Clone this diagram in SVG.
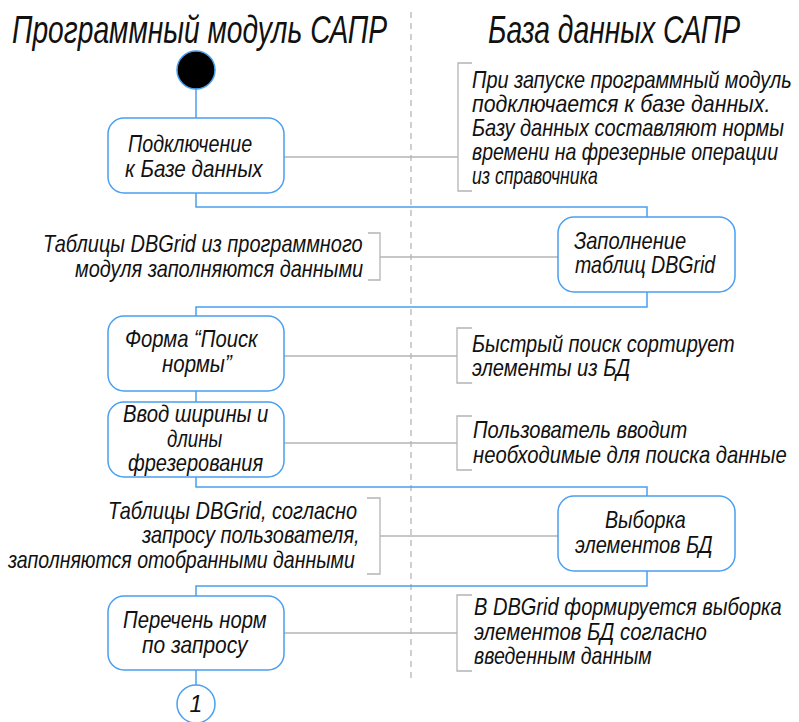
<svg xmlns="http://www.w3.org/2000/svg" width="799" height="722" viewBox="0 0 799 722">
<style>
text{font-family:"Liberation Sans","DejaVu Sans",sans-serif;font-style:italic;fill:#111;}
.t{font-size:23px;}
.h{font-size:38px;}
.node{fill:#fff;stroke:#4a9ff0;stroke-width:1.5;}
.flow{fill:none;stroke:#4a9ff0;stroke-width:1.5;}
.note{fill:none;stroke:#b4b4b4;stroke-width:1.3;}
.lane{fill:none;stroke:#b0b0b0;stroke-width:1.2;stroke-dasharray:6 5;}
</style>
<rect width="799" height="722" fill="#fff"/>
<g id="lanes">
<line class="lane" x1="411" y1="12" x2="411" y2="678"/>
<text class="h" transform="translate(12,43) scale(0.75,1)" textLength="500" lengthAdjust="spacingAndGlyphs">Программный модуль САПР</text>
<text class="h" transform="translate(488,43) scale(0.75,1)" textLength="336" lengthAdjust="spacingAndGlyphs">База данных САПР</text>
</g>
<g id="connectors">
<polyline class="flow" points="196,89 196,118"/>
<polyline class="flow" points="196,193 196,207 647,207 647,217"/>
<polyline class="flow" points="647,292 647,307 196,307 196,316"/>
<polyline class="flow" points="196,391 196,402"/>
<polyline class="flow" points="196,477 196,487 647,487 647,496"/>
<polyline class="flow" points="647,571 647,586 196,586 196,596"/>
<polyline class="flow" points="196,670 196,685"/>
<line class="note" x1="284" y1="157" x2="458" y2="157"/>
<line class="note" x1="380" y1="257" x2="558" y2="257"/>
<line class="note" x1="284" y1="356" x2="457" y2="356"/>
<line class="note" x1="284" y1="443" x2="457" y2="443"/>
<line class="note" x1="380" y1="536" x2="558" y2="536"/>
<line class="note" x1="284" y1="633" x2="457" y2="633"/>
</g>
<g id="start">
<circle cx="196" cy="70" r="19" fill="#000" stroke="#4a9ff0" stroke-width="1.5"/>
</g>
<g id="nodeA">
<rect class="node" x="108" y="118" width="176" height="75" rx="16"/>
<text class="t" transform="translate(128,152) scale(0.85,1)" textLength="146" lengthAdjust="spacingAndGlyphs">Подключение</text>
<text class="t" transform="translate(125,177) scale(0.85,1)" textLength="162" lengthAdjust="spacingAndGlyphs">к Базе данных</text>
</g>
<g id="nodeB">
<rect class="node" x="558" y="217" width="177" height="75" rx="16"/>
<text class="t" transform="translate(574,249) scale(0.85,1)" textLength="132" lengthAdjust="spacingAndGlyphs">Заполнение</text>
<text class="t" transform="translate(575,273) scale(0.85,1)" textLength="165" lengthAdjust="spacingAndGlyphs">таблиц DBGrid</text>
</g>
<g id="nodeC">
<rect class="node" x="108" y="316" width="176" height="75" rx="16"/>
<text class="t" transform="translate(125,347) scale(0.85,1)" textLength="156" lengthAdjust="spacingAndGlyphs">Форма “Поиск</text>
<text class="t" transform="translate(162,372) scale(0.85,1)" textLength="82" lengthAdjust="spacingAndGlyphs">нормы”</text>
</g>
<g id="nodeD">
<rect class="node" x="108" y="402" width="176" height="75" rx="16"/>
<text class="t" transform="translate(123,422) scale(0.85,1)" textLength="171" lengthAdjust="spacingAndGlyphs">Ввод ширины и</text>
<text class="t" transform="translate(167,447) scale(0.85,1)" textLength="65" lengthAdjust="spacingAndGlyphs">длины</text>
<text class="t" transform="translate(128,471) scale(0.85,1)" textLength="159" lengthAdjust="spacingAndGlyphs">фрезерования</text>
</g>
<g id="nodeE">
<rect class="node" x="558" y="496" width="177" height="75" rx="16"/>
<text class="t" transform="translate(605,528) scale(0.85,1)" textLength="95" lengthAdjust="spacingAndGlyphs">Выборка</text>
<text class="t" transform="translate(575,553) scale(0.85,1)" textLength="162" lengthAdjust="spacingAndGlyphs">элементов БД</text>
</g>
<g id="nodeF">
<rect class="node" x="108" y="596" width="176" height="74" rx="16"/>
<text class="t" transform="translate(123,628) scale(0.85,1)" textLength="169" lengthAdjust="spacingAndGlyphs">Перечень норм</text>
<text class="t" transform="translate(142,653) scale(0.85,1)" textLength="124" lengthAdjust="spacingAndGlyphs">по запросу</text>
</g>
<g id="end">
<circle cx="196" cy="704" r="19" fill="#fff" stroke="#4a9ff0" stroke-width="1.5"/>
<text class="t" x="196" y="712" text-anchor="middle">1</text>
</g>
<g id="noteA">
<path class="note" d="M472,63 H458 V191 H472"/>
<text class="t" transform="translate(472,88) scale(0.85,1)" textLength="376" lengthAdjust="spacingAndGlyphs">При запуске программный модуль</text>
<text class="t" transform="translate(472,112) scale(0.85,1)" textLength="351" lengthAdjust="spacingAndGlyphs">подключается к базе данных.</text>
<text class="t" transform="translate(472,136) scale(0.85,1)" textLength="367" lengthAdjust="spacingAndGlyphs">Базу данных составляют нормы</text>
<text class="t" transform="translate(472,160) scale(0.85,1)" textLength="360" lengthAdjust="spacingAndGlyphs">времени на фрезерные операции</text>
<text class="t" transform="translate(472,184) scale(0.85,1)" textLength="148" lengthAdjust="spacingAndGlyphs">из справочника</text>
</g>
<g id="noteB">
<path class="note" d="M368,233 H380 V280 H368"/>
<text class="t" transform="translate(43,252) scale(0.85,1)" textLength="376" lengthAdjust="spacingAndGlyphs">Таблицы DBGrid из программного</text>
<text class="t" transform="translate(75,277) scale(0.85,1)" textLength="339" lengthAdjust="spacingAndGlyphs">модуля заполняются данными</text>
</g>
<g id="noteC">
<path class="note" d="M472,328 H457 V383 H472"/>
<text class="t" transform="translate(472,352) scale(0.85,1)" textLength="309" lengthAdjust="spacingAndGlyphs">Быстрый поиск сортирует</text>
<text class="t" transform="translate(472,376) scale(0.85,1)" textLength="186" lengthAdjust="spacingAndGlyphs">элементы из БД</text>
</g>
<g id="noteD">
<path class="note" d="M472,416 H457 V470 H472"/>
<text class="t" transform="translate(473,438) scale(0.85,1)" textLength="252" lengthAdjust="spacingAndGlyphs">Пользователь вводит</text>
<text class="t" transform="translate(473,463) scale(0.85,1)" textLength="369" lengthAdjust="spacingAndGlyphs">необходимые для поиска данные</text>
</g>
<g id="noteE">
<path class="note" d="M367,498 H380 V574 H367"/>
<text class="t" transform="translate(108,519) scale(0.85,1)" textLength="293" lengthAdjust="spacingAndGlyphs">Таблицы DBGrid, согласно</text>
<text class="t" transform="translate(142,543) scale(0.85,1)" textLength="256" lengthAdjust="spacingAndGlyphs">запросу пользователя,</text>
<text class="t" transform="translate(8,568) scale(0.85,1)" textLength="408" lengthAdjust="spacingAndGlyphs">заполняются отобранными данными</text>
</g>
<g id="noteF">
<path class="note" d="M472,595 H457 V671 H472"/>
<text class="t" transform="translate(474,615) scale(0.85,1)" textLength="362" lengthAdjust="spacingAndGlyphs">В DBGrid формируется выборка</text>
<text class="t" transform="translate(474,640) scale(0.85,1)" textLength="274" lengthAdjust="spacingAndGlyphs">элементов БД согласно</text>
<text class="t" transform="translate(474,664) scale(0.85,1)" textLength="209" lengthAdjust="spacingAndGlyphs">введенным данным</text>
</g>
</svg>
